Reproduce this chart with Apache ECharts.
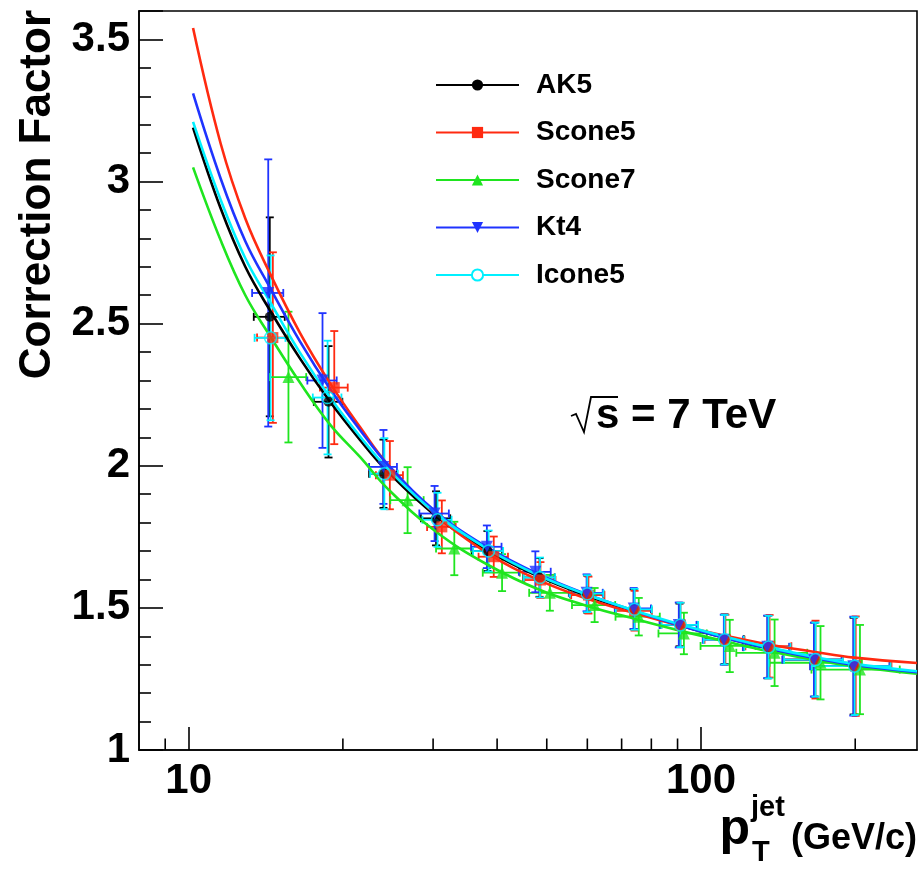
<!DOCTYPE html>
<html><head><meta charset="utf-8">
<script src="https://cdn.jsdelivr.net/npm/echarts@6/dist/echarts.min.js"></script>
<style>html,body{margin:0;padding:0;background:#fff}#c{width:923px;height:869px}</style>
</head><body><div id="c"></div>
<script>
// ---------------- data ----------------
const seriesNames = ['AK5', 'Scone5', 'Scone7', 'Kt4', 'Icone5'];
const xTickLabels = [10, 100];
const xMinorTicks = [9, 20, 30, 40, 50, 60, 70, 80, 90, 200];
const yTickLabels = [1, 1.5, 2, 2.5, 3, 3.5];

// measured points: pT, correction, y error; x errors (GeV)
const ak5_pt   = [14.4, 18.75, 24.0, 30.4, 38.3, 48.4, 60.0, 73.9, 90.8, 111.2, 134.9, 166.6, 198.6];
const ak5_y    = [2.524, 2.225, 1.972, 1.815, 1.700, 1.607, 1.548, 1.495, 1.440, 1.390, 1.362, 1.318, 1.295];
const ak5_ey   = [0.35, 0.196, 0.12, 0.095, 0.07, 0.068, 0.065, 0.07, 0.075, 0.087, 0.11, 0.13, 0.17];

const scone5_pt = [14.6, 19.24, 24.7, 31.2, 39.4, 48.6, 60.3, 74.2, 91.2, 111.6, 136.1, 167.3, 200.4];
const scone5_y  = [2.451, 2.275, 1.967, 1.785, 1.680, 1.598, 1.545, 1.490, 1.440, 1.388, 1.365, 1.318, 1.295];
const scone5_ey = [0.30, 0.199, 0.12, 0.093, 0.071, 0.063, 0.065, 0.07, 0.078, 0.088, 0.11, 0.137, 0.175];

const scone7_pt = [15.66, 26.75, 33.0, 40.9, 50.7, 62.0, 75.6, 92.6, 113.8, 139.2, 171.1, 204.3];
const scone7_y  = [2.312, 1.879, 1.709, 1.624, 1.553, 1.510, 1.469, 1.410, 1.366, 1.342, 1.307, 1.283];
const scone7_ey = [0.23, 0.116, 0.094, 0.065, 0.063, 0.06, 0.066, 0.073, 0.092, 0.117, 0.129, 0.157];

const kt4_pt   = [14.3, 18.25, 24.0, 30.2, 38.2, 47.5, 59.8, 73.9, 90.5, 110.8, 134.7, 166.1, 198.3];
const kt4_y    = [2.608, 2.30, 1.996, 1.832, 1.715, 1.627, 1.553, 1.498, 1.440, 1.388, 1.363, 1.318, 1.295];
const kt4_ey   = [0.47, 0.237, 0.13, 0.097, 0.075, 0.072, 0.065, 0.072, 0.079, 0.088, 0.11, 0.13, 0.174];

const icone5_pt = [14.45, 18.67, 24.1, 30.6, 38.5, 48.5, 60.0, 74.2, 91.2, 111.2, 135.5, 167.3, 199.5];
const icone5_y  = [2.45, 2.24, 1.972, 1.81, 1.70, 1.607, 1.55, 1.495, 1.44, 1.388, 1.362, 1.318, 1.295];
const icone5_ey = [0.29, 0.20, 0.125, 0.095, 0.072, 0.07, 0.065, 0.072, 0.078, 0.087, 0.11, 0.13, 0.172];

const bin_ex13 = [1.0, 1.2, 1.5, 2.0, 2.6, 3.4, 4.5, 6, 7.5, 10, 14, 22, 35];
const bin_ex12 = [1.3, 2.0, 2.6, 3.4, 4.5, 6, 7.5, 10, 14, 22, 35, 40];

// fitted curves
const fit_pt     = [10.2, 11.55, 12.9, 14.4, 16.5, 18.9, 21.6, 24.5, 30.5, 38.5, 48.5, 60, 74, 91, 111, 135, 167, 199, 264];
const ak5_fit    = [3.190, 2.905, 2.700, 2.548, 2.377, 2.224, 2.091, 1.978, 1.821, 1.700, 1.608, 1.542, 1.487, 1.438, 1.395, 1.358, 1.323, 1.299, 1.272];
const icone5_fit = [3.210, 2.935, 2.730, 2.578, 2.397, 2.239, 2.103, 1.988, 1.829, 1.705, 1.612, 1.546, 1.491, 1.442, 1.399, 1.362, 1.327, 1.303, 1.277];
const kt4_fit    = [3.310, 3.010, 2.790, 2.628, 2.437, 2.269, 2.126, 2.003, 1.836, 1.710, 1.616, 1.547, 1.490, 1.438, 1.395, 1.358, 1.323, 1.299, 1.274];
const scone5_fit = [3.540, 3.133, 2.870, 2.678, 2.467, 2.289, 2.136, 2.003, 1.826, 1.690, 1.596, 1.532, 1.482, 1.438, 1.403, 1.372, 1.345, 1.325, 1.306];
const scone7_fit = [3.050, 2.793, 2.600, 2.458, 2.292, 2.144, 2.031, 1.918, 1.766, 1.650, 1.563, 1.507, 1.462, 1.420, 1.383, 1.348, 1.317, 1.294, 1.268];

// ---------------- styling ----------------
const colors = {AK5: '#000000', Scone5: '#ff2a10', Scone7: '#1fe51f', Kt4: '#1f33ff', Icone5: '#00f0ff'};
const downTri = 'path://M0,0L10,0L5,9Z';
const symbols = {AK5: 'circle', Scone5: 'rect', Scone7: 'triangle', Kt4: downTri, Icone5: 'emptyCircle'};
const symSize = {AK5: 10, Scone5: 11, Scone7: 12, Kt4: 12, Icone5: 12};

const FONT = '"Liberation Sans", Arial, Helvetica, sans-serif';

const dataSets = {
  AK5:   {pt: ak5_pt, y: ak5_y, ey: ak5_ey, ex: bin_ex13, fit: ak5_fit},
  Scone5:{pt: scone5_pt, y: scone5_y, ey: scone5_ey, ex: bin_ex13, fit: scone5_fit},
  Scone7:{pt: scone7_pt, y: scone7_y, ey: scone7_ey, ex: bin_ex12, fit: scone7_fit},
  Kt4:   {pt: kt4_pt, y: kt4_y, ey: kt4_ey, ex: bin_ex13, fit: kt4_fit},
  Icone5:{pt: icone5_pt, y: icone5_y, ey: icone5_ey, ex: bin_ex13, fit: icone5_fit}
};

function errSeries(name) {
  const d = dataSets[name], color = colors[name];
  return {
    type: 'custom', name: name + '_err', silent: true, z: 3,
    data: d.pt.map((p, i) => [p, d.y[i], p - d.ex[i], p + d.ex[i], d.y[i] - d.ey[i], d.y[i] + d.ey[i]]),
    encode: {x: 0, y: 1},
    clip: true,
    renderItem: function (params, api) {
      const c = api.coord([api.value(0), api.value(1)]);
      const l = api.coord([api.value(2), api.value(1)]);
      const r = api.coord([api.value(3), api.value(1)]);
      const b = api.coord([api.value(0), api.value(4)]);
      const t = api.coord([api.value(0), api.value(5)]);
      const cap = 4;
      const st = {stroke: color, lineWidth: 1.8};
      const L = (x1, y1, x2, y2) => ({type: 'line', shape: {x1, y1, x2, y2}, style: st});
      return {type: 'group', children: [
        L(l[0], c[1], r[0], c[1]),
        L(c[0], t[1], c[0], b[1]),
        L(c[0] - cap, t[1], c[0] + cap, t[1]),
        L(c[0] - cap, b[1], c[0] + cap, b[1]),
        L(l[0], c[1] - cap, l[0], c[1] + cap),
        L(r[0], c[1] - cap, r[0], c[1] + cap)
      ]};
    }
  };
}

function fitSeries(name) {
  const d = dataSets[name];
  return {
    type: 'line', name: name, z: 4,
    data: fit_pt.map((p, i) => [p, d.fit[i]]),
    smooth: 0.4,
    showSymbol: false, symbol: symbols[name], symbolSize: symSize[name],
    lineStyle: {color: colors[name], width: 2.6},
    itemStyle: {color: colors[name]},
    silent: true
  };
}

function markerSeries(name) {
  const d = dataSets[name];
  const open = name === 'Icone5';
  return {
    type: 'scatter', name: name + '_pts', z: 5, silent: true,
    data: d.pt.map((p, i) => [p, d.y[i]]),
    symbol: open ? 'circle' : symbols[name],
    symbolSize: symSize[name],
    itemStyle: open ? {color: 'rgba(0,0,0,0)', borderColor: colors[name], borderWidth: 1.5}
                    : {color: colors[name]}
  };
}

const order = ['AK5', 'Scone5', 'Scone7', 'Kt4', 'Icone5'];
const series = [];
order.forEach(n => series.push(fitSeries(n)));
order.forEach(n => series.push(errSeries(n)));
order.forEach(n => series.push(markerSeries(n)));

// minor ticks on the log x axis
series.push({
  type: 'custom', name: 'xminor', silent: true, z: 6, clip: false,
  data: xMinorTicks.map(v => [v, 1]),
  encode: {x: 0, y: 1},
  renderItem: function (params, api) {
    const p = api.coord([api.value(0), api.value(1)]);
    return {type: 'line', shape: {x1: p[0], y1: p[1], x2: p[0], y2: p[1] - 11.5}, style: {stroke: '#000', lineWidth: 1.6}};
  }
});

const chart = echarts.init(document.getElementById('c'), null, {renderer: 'canvas'});
chart.setOption({
  animation: false,
  backgroundColor: '#fff',
  grid: {left: 139, top: 11, width: 778, height: 739, show: true, borderColor: '#000', borderWidth: 1.6, backgroundColor: 'transparent'},
  legend: {
    data: seriesNames,
    orient: 'vertical', left: 435, top: 69, padding: 0,
    itemWidth: 83, itemHeight: 14, itemGap: 15.5,
    textStyle: {fontFamily: FONT, fontWeight: 'bold', fontSize: 28, color: '#000', lineHeight: 32, padding: [0, 0, 0, 12]},
    selectedMode: false
  },
  xAxis: {
    type: 'log', logBase: 10, min: 8, max: 264,
    axisLine: {show: true, onZero: false, lineStyle: {color: '#000', width: 1.6}},
    axisTick: {show: true, inside: true, length: 23, lineStyle: {color: '#000', width: 1.6}},
    axisLabel: {show: true, showMinLabel: false, showMaxLabel: false, margin: 10,
      fontFamily: FONT, fontWeight: 'bold', fontSize: 42, color: '#000',
      formatter: v => (xTickLabels.indexOf(Math.round(v)) >= 0 ? String(Math.round(v)) : '')},
    splitLine: {show: false}
  },
  yAxis: {
    type: 'value', min: 1, max: 3.6, interval: 0.5,
    axisLine: {show: true, lineStyle: {color: '#000', width: 1.6}},
    axisTick: {show: true, inside: true, length: 24, lineStyle: {color: '#000', width: 1.6}},
    minorTick: {show: true, splitNumber: 5, length: 12, lineStyle: {color: '#000', width: 1.6}},
    axisLabel: {margin: 9, fontFamily: FONT, fontWeight: 'bold', fontSize: 42, color: '#000',
      formatter: v => (yTickLabels.indexOf(Math.round(v * 10) / 10) >= 0 && v <= 3.5 ? String(Math.round(v * 10) / 10) : '')},
    splitLine: {show: false}
  },
  graphic: [
    {type: 'text', x: 38, y: 10, rotation: Math.PI / 2,
      style: {text: 'Correction Factor', align: 'right', verticalAlign: 'middle', font: 'bold 44px ' + FONT, fill: '#000'}},
    {type: 'text', x: 917, y: 839, style: {text: '(GeV/c)', align: 'right', verticalAlign: 'middle', font: 'bold 36px ' + FONT, fill: '#000'}},
    {type: 'text', x: 750, y: 830, style: {text: 'p', align: 'right', verticalAlign: 'middle', font: 'bold 50px ' + FONT, fill: '#000'}},
    {type: 'text', x: 751, y: 808, style: {text: 'jet', align: 'left', verticalAlign: 'middle', font: 'bold 29px ' + FONT, fill: '#000'}},
    {type: 'text', x: 752, y: 853, style: {text: 'T', align: 'left', verticalAlign: 'middle', font: 'bold 29px ' + FONT, fill: '#000'}},
    {type: 'polyline', shape: {points: [[571, 416], [576, 414], [584, 432], [591, 397], [618, 397]]}, style: {stroke: '#000', lineWidth: 1.8, fill: null}},
    {type: 'text', x: 596, y: 416, style: {text: 's = 7 TeV', align: 'left', verticalAlign: 'middle', font: 'bold 42px ' + FONT, fill: '#000'}}
  ],
  series: series
});
</script></body></html>
